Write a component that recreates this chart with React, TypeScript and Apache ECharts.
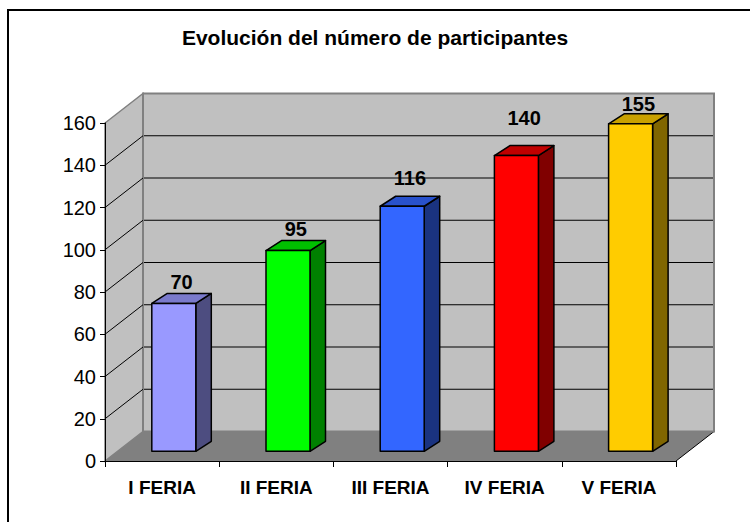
import React, { useEffect, useRef } from "react";
import * as echarts from "echarts";

const CATEGORIES = ["I FERIA", "II FERIA", "III FERIA", "IV FERIA", "V FERIA"];
const VALUES = [70, 95, 116, 140, 155];
const Y_TICKS = [0, 20, 40, 60, 80, 100, 120, 140, 160];
const TITLE = "Evolución del número de participantes";

// styling
const FRONT_COLORS = ["#9999FF", "#00FF00", "#3366FF", "#FF0000", "#FFCC00"];
const TOP_COLORS = ["#7A7ACC", "#00C000", "#2952CC", "#C00000", "#C9A100"];
const SIDE_COLORS = ["#4D4D80", "#008000", "#1A3380", "#800000", "#806600"];
const LABEL_LIFT = [1, 2, 8, 17.5, 0];

const FONT = "'Liberation Sans', Arial, sans-serif";
const WALL_DX = 38;
const WALL_DY = -29.5;
const BAR_OX = 11.7;
const BAR_OY = -9.7;
const BAR_SDX = 15.5;
const BAR_SDY = -10;
const BAR_W = 44;

export default function App() {
  const ref = useRef<HTMLDivElement>(null);
  useEffect(() => {
    if (!ref.current) return;
    const chart = echarts.init(ref.current, null, { renderer: "svg" });

    const wallsRender = (params: any, api: any) => {
      const cs = params.coordSys;
      const L = cs.x, T = cs.y, R = cs.x + cs.width, B = cs.y + cs.height;
      const children: any[] = [];
      children.push({
        type: "polygon",
        shape: { points: [[L, B], [L + WALL_DX, B + WALL_DY], [R + WALL_DX, B + WALL_DY], [R, B]] },
        style: { fill: "#808080", stroke: "none" },
      });
      children.push({
        type: "line",
        shape: { x1: R, y1: B, x2: R + WALL_DX, y2: B + WALL_DY },
        style: { stroke: "#000", lineWidth: 1 },
      });
      children.push({
        type: "polygon",
        shape: { points: [[L, B], [L, T], [L + WALL_DX, T + WALL_DY], [L + WALL_DX, B + WALL_DY]] },
        style: { fill: "#C0C0C0", stroke: "#808080", lineWidth: 1.5 },
      });
      children.push({
        type: "rect",
        shape: { x: L + WALL_DX, y: T + WALL_DY, width: R - L, height: B - T },
        style: { fill: "#C0C0C0", stroke: "#808080", lineWidth: 2 },
      });
      Y_TICKS.forEach((v) => {
        if (v === 0 || v === Y_TICKS[Y_TICKS.length - 1]) return;
        const y = api.coord([0, v])[1];
        children.push({
          type: "line",
          shape: { x1: L, y1: y, x2: L + WALL_DX, y2: y + WALL_DY },
          style: { stroke: "#000", lineWidth: 1 },
        });
        children.push({
          type: "line",
          shape: { x1: L + WALL_DX + 1, y1: y + WALL_DY, x2: R + WALL_DX - 1, y2: y + WALL_DY },
          style: { stroke: "#000", lineWidth: 1 },
        });
      });
      return { type: "group", children };
    };

    const barsRender = (params: any, api: any) => {
      const i = api.value(0);
      const v = api.value(1);
      const c0 = api.coord([i, 0]);
      const c1 = api.coord([i, v]);
      const xl = c0[0] + BAR_OX - BAR_W / 2;
      const xr = xl + BAR_W;
      const yb = c0[1] + BAR_OY;
      const yt = c1[1] + BAR_OY;
      const st = { stroke: "#000", lineWidth: 1.5, lineJoin: "round" };
      return {
        type: "group",
        children: [
          {
            type: "polygon",
            shape: { points: [[xr, yt], [xr + BAR_SDX, yt + BAR_SDY], [xr + BAR_SDX, yb + BAR_SDY], [xr, yb]] },
            style: { fill: SIDE_COLORS[i], ...st },
          },
          {
            type: "polygon",
            shape: { points: [[xl, yt], [xl + BAR_SDX, yt + BAR_SDY], [xr + BAR_SDX, yt + BAR_SDY], [xr, yt]] },
            style: { fill: TOP_COLORS[i], ...st },
          },
          {
            type: "rect",
            shape: { x: xl, y: yt, width: BAR_W, height: yb - yt },
            style: { fill: FRONT_COLORS[i], ...st },
          },
          {
            type: "text",
            style: {
              text: String(v),
              x: (xl + xr) / 2 + BAR_SDX / 2,
              y: yt + BAR_SDY - 10 - LABEL_LIFT[i],
              align: "center",
              verticalAlign: "middle",
              fontFamily: FONT,
              fontSize: 20,
              fontWeight: "bold",
              fill: "#000",
            },
          },
        ],
      };
    };

    chart.setOption({
      animation: false,
      backgroundColor: "#fff",
      title: {
        text: TITLE,
        left: "center",
        top: 22,
        textStyle: { fontFamily: FONT, fontSize: 21, fontWeight: "bold", color: "#000" },
      },
      graphic: [
        {
          type: "rect",
          shape: { x: 8, y: 10, width: 760, height: 540 },
          style: { fill: "none", stroke: "#000", lineWidth: 2 },
          z: 100,
        },
      ],
      grid: { left: 105, top: 123, width: 571, height: 338, containLabel: false },
      xAxis: {
        type: "category",
        data: CATEGORIES,
        axisLine: { show: true, lineStyle: { color: "#000", width: 1 } },
        axisTick: { show: true, alignWithLabel: false, length: 6, lineStyle: { color: "#000" } },
        axisLabel: { color: "#000", fontFamily: FONT, fontSize: 19, fontWeight: "bold", margin: 17 },
        splitLine: { show: false },
        z: 10,
      },
      yAxis: {
        type: "value",
        min: 0,
        max: 160,
        interval: 20,
        axisLine: { show: true, lineStyle: { color: "#000", width: 1 } },
        axisTick: { show: true, length: 5, lineStyle: { color: "#000" } },
        axisLabel: { color: "#000", fontFamily: FONT, fontSize: 20, margin: 9 },
        splitLine: { show: false },
        z: 10,
      },
      series: [
        {
          type: "custom",
          renderItem: wallsRender,
          data: [[0, 0]],
          z: 1,
          silent: true,
          clip: false,
        },
        {
          type: "custom",
          renderItem: barsRender,
          data: VALUES.map((v, i) => [i, v]),
          z: 5,
          clip: false,
        },
      ],
    });
    return () => chart.dispose();
  }, []);
  return (
    <div
      ref={ref}
      style={{ position: "fixed", left: 0, top: 0, width: 750, height: 522 }}
    />
  );
}
